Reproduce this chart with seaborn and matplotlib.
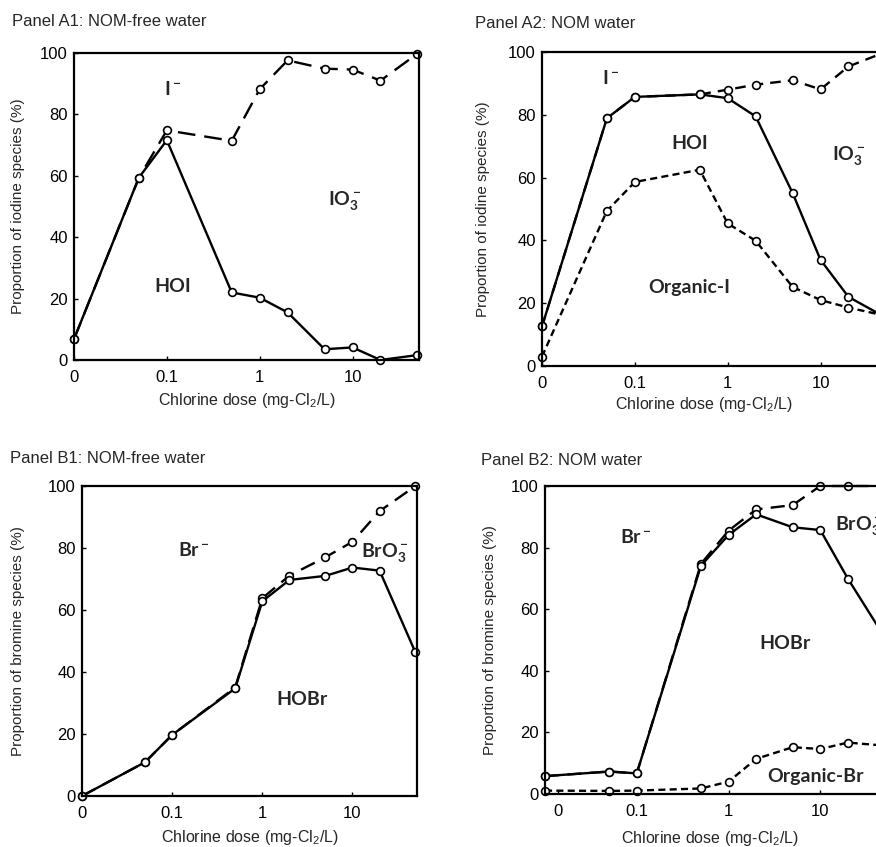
import pandas as pd
import matplotlib

matplotlib.use("Agg")
import matplotlib.pyplot as plt
from matplotlib.ticker import NullLocator
import seaborn as sns

# chlorine doses (mg-Cl2/L); dose 0 sits at the left edge of the log axis
doses = [0, 0.05, 0.1, 0.5, 1, 2, 5, 10, 20, 50]
ZERO_POS = 0.01
X_MAX = 52

# Panel A1: NOM-free water, iodine species (cumulative %)
a1_hoi = [6.8, 59.4, 71.6, 22.0, 20.3, 15.5, 3.5, 4.1, 0.0, 1.6]
a1_iodide = [6.8, 59.4, 74.8, 71.4, 88.2, 97.6, 94.9, 94.6, 91.0, 99.8]

# Panel A2: NOM water, iodine species
a2_hoi = [12.6, 78.9, 85.7, 86.5, 85.3, 79.5, 55.1, 33.8, 22.0, 15.5]
a2_iodide = [12.6, 78.9, 85.7, 86.5, 88.0, 89.6, 91.0, 88.1, 95.4, 100.0]
a2_organic = [3.0, 49.4, 58.6, 62.5, 45.4, 39.9, 25.2, 21.0, 18.6, 16.0]

# Panel B1: NOM-free water, bromine species
b1_hobr = [0.0, 10.9, 19.7, 34.7, 62.8, 69.7, 71.0, 73.7, 72.7, 46.3]
b1_bromide = [0.0, 10.9, 19.7, 35.0, 63.8, 71.1, 77.0, 82.0, 91.9, 100.0]

# Panel B2: NOM water, bromine species
b2_hobr = [5.8, 7.3, 6.7, 74.1, 84.1, 90.8, 86.6, 85.7, 69.9, 51.0]
b2_bromide = [5.8, 7.3, 6.7, 74.7, 85.5, 92.4, 93.8, 100.0, 100.0, 100.0]
b2_organic = [1.1, 1.0, 1.1, 1.8, 4.0, 11.4, 15.2, 14.6, 16.7, 15.7]

sns.set_theme(style="ticks")
plt.rcParams["font.family"] = ["Liberation Sans", "DejaVu Sans"]

SHORT_DASH = (0, (3.0, 1.8))
LABEL_FONT = dict(family=["Lato", "DejaVu Sans"], weight="bold", fontsize=14)

W, H = 876, 847
fig = plt.figure(figsize=(W / 100, H / 100), dpi=100)


def px_axes(left, top, right, bottom):
    # axes box given in pixel coordinates of the reference
    return fig.add_axes([left / W, 1 - bottom / H, (right - left) / W, (bottom - top) / H])


def draw_line(ax, values, ls):
    df = pd.DataFrame({
        "dose": [ZERO_POS if d == 0 else d for d in doses],
        "pct": values,
    })
    sns.lineplot(
        data=df, x="dose", y="pct", ax=ax, sort=False, errorbar=None,
        color="black", linestyle=ls, linewidth=1.7,
        marker="o", markersize=5.6, markerfacecolor="white",
        markeredgecolor="black", markeredgewidth=1.2, clip_on=False,
    )


def style_axes(ax, ylabel, zero_tick, xlab_x, ylab_off, xlab_off, w_px, h_px):
    ax.set_xscale("log")
    ax.set_xlim(ZERO_POS, X_MAX)
    ax.set_ylim(0, 100)
    ax.set_xticks([zero_tick, 0.1, 1, 10])
    ax.set_xticklabels(["0", "0.1", "1", "10"])
    ax.xaxis.set_minor_locator(NullLocator())
    ax.set_yticks(range(0, 101, 20))
    ax.tick_params(axis="both", direction="in", length=3, width=1,
                   labelsize=12, colors="black")
    ax.tick_params(axis="x", pad=7)
    ax.tick_params(axis="y", pad=4.5)
    for sp in ax.spines.values():
        sp.set_linewidth(1.6)
        sp.set_color("black")
    ax.set_xlabel(r"Chlorine dose (mg-$\mathregular{Cl_2}$/L)", fontsize=11.5, va="center")
    ax.set_ylabel(ylabel, fontsize=11, va="center")
    ax.xaxis.set_label_coords(xlab_x, -xlab_off / h_px)
    ax.yaxis.set_label_coords(-ylab_off / w_px, 0.5)


def add_label(ax, x, y, s, ha="center"):
    ax.text(x, y, s, ha=ha, va="center", **LABEL_FONT)


# --- Panel A1
ax = px_axes(74, 53, 419, 360)
draw_line(ax, a1_iodide, (0, (7.5, 3.8)))
draw_line(ax, a1_hoi, "-")
style_axes(ax, "Proportion of iodine species (%)", ZERO_POS, 0.5, 56, 40, 345, 307)
add_label(ax, 0.117, 88.3, r"$\mathregular{I^-}$")
add_label(ax, 8.3, 52, r"$\mathregular{IO_3^-}$")
add_label(ax, 0.117, 24, "HOI")

# --- Panel A2
ax = px_axes(542, 52, 887, 366)
draw_line(ax, a2_iodide, (0, (4.5, 3.0)))
draw_line(ax, a2_organic, SHORT_DASH)
draw_line(ax, a2_hoi, "-")
style_axes(ax, "Proportion of iodine species (%)", ZERO_POS, 0.47, 59, 39, 345, 314)
add_label(ax, 0.055, 91.6, r"$\mathregular{I^-}$")
add_label(ax, 0.39, 71, "HOI")
add_label(ax, 20, 67, r"$\mathregular{IO_3^-}$")
add_label(ax, 0.39, 25, "Organic-I")

# --- Panel B1
ax = px_axes(82, 486, 417, 796)
draw_line(ax, b1_bromide, (0, (6.5, 3.5)))
draw_line(ax, b1_hobr, "-")
style_axes(ax, "Proportion of bromine species (%)", ZERO_POS, 0.5, 64, 41, 335, 310)
add_label(ax, 0.176, 79.4, r"$\mathregular{Br^-}$")
add_label(ax, 23, 78.7, r"$\mathregular{BrO_3^-}$")
add_label(ax, 2.75, 31, "HOBr")

# --- Panel B2
ax = px_axes(545, 486, 886, 794)
draw_line(ax, b2_bromide, (0, (6.0, 3.5)))
draw_line(ax, b2_organic, SHORT_DASH)
draw_line(ax, b2_hobr, "-")
style_axes(ax, "Proportion of bromine species (%)", 0.0139, 0.484, 55, 44, 341, 308)
add_label(ax, 0.098, 83.4, r"$\mathregular{Br^-}$")
add_label(ax, 14.5, 87.3, r"$\mathregular{BrO_3^-}$", ha="left")
add_label(ax, 4.1, 49, "HOBr")
add_label(ax, 8.8, 5.8, "Organic-Br")

# panel titles
titles = [
    (12, 22, "Panel A1: NOM-free water"),
    (475, 24, "Panel A2: NOM water"),
    (10, 458, "Panel B1: NOM-free water"),
    (481, 460, "Panel B2: NOM water"),
]
for tx, ty, s in titles:
    fig.text(tx / W, 1 - ty / H, s, ha="left", va="center", fontsize=12)

fig.savefig("out.png", dpi=100, facecolor="white")
plt.close(fig)
